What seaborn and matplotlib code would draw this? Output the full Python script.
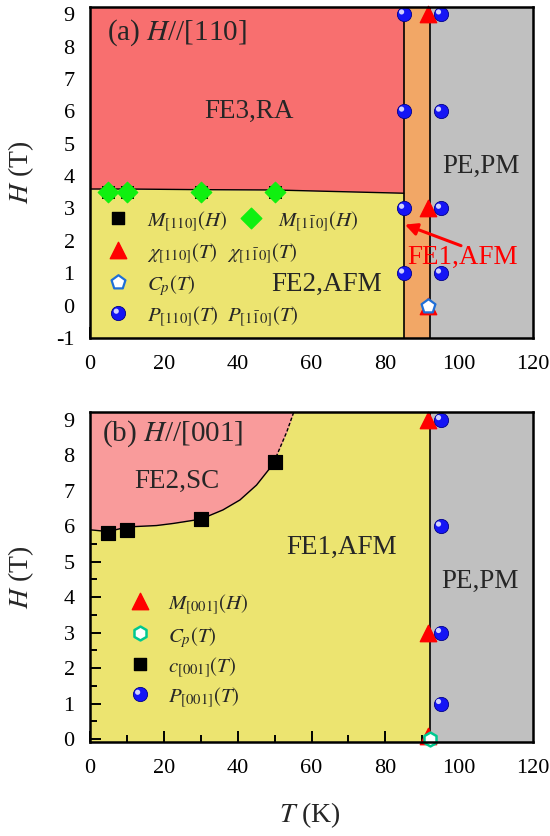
import matplotlib
matplotlib.use("Agg")
import matplotlib.pyplot as plt
import matplotlib.transforms as mtransforms
from matplotlib.ticker import MultipleLocator
import seaborn as sns

sns.set_theme(style="ticks")
plt.rcParams["font.family"] = ["Liberation Serif", "DejaVu Serif"]
plt.rcParams["mathtext.fontset"] = "stix"
plt.rcParams["axes.unicode_minus"] = False

# ---------------- panel (a): H // [110] ----------------
a_M110_T = [5, 10, 30, 50]
a_M110_H = [3.5, 3.5, 3.5, 3.5]
a_M1b10_T = [5, 10, 30, 50]
a_M1b10_H = [3.5, 3.5, 3.5, 3.5]
a_chi_T = [91.5, 91.5, 91.5]
a_chi_H = [9, 3, 0]
a_cp_T = [91.6]
a_cp_H = [0]
a_P_T = [85, 85, 85, 85, 95, 95, 95, 95]
a_P_H = [9, 6, 3, 1, 9, 6, 3, 1]
# FE3 / FE2 boundary
a_bd_T = [0, 5, 10, 30, 50, 85]
a_bd_H = [3.6, 3.6, 3.6, 3.58, 3.57, 3.47]
a_T1 = 85   # FE2 -> FE1
a_T2 = 92   # FE1 -> PE

# ---------------- panel (b): H // [001] ----------------
b_M_T = [91.5, 91.5, 91.5]
b_M_H = [9, 3, 0.1]
b_cp_T = [92]
b_cp_H = [0]
b_c_T = [5, 10, 30, 50]
b_c_H = [5.8, 5.9, 6.2, 7.8]
b_P_T = [95, 95, 95, 95]
b_P_H = [9, 6, 3, 1]
# FE2,SC / FE1 boundary (solid part) and its extrapolation (dashed)
b_bd_T = [0, 5, 10, 18, 22.6, 30, 36, 40.6, 45.1, 48.3, 50]
b_bd_H = [5.9, 5.85, 5.98, 6.02, 6.08, 6.2, 6.46, 6.74, 7.16, 7.58, 7.8]
b_ext_T = [50, 50.6, 53.3, 55.2]
b_ext_H = [7.8, 8.0, 8.66, 9.22]
b_T2 = 92

x_ticks = [0, 20, 40, 60, 80, 100, 120]

C_RED = "#F86F6F"
C_PINK = "#F99B9B"
C_YEL = "#ECE470"
C_ORG = "#F2A766"
C_GRAY = "#C0C0C0"
C_BALL = "#1515F5"
C_BALL_EDGE = "#00008A"

fig = plt.figure(figsize=(5.5, 8.36), dpi=100)
W, Hpx = 550.0, 836.0
ax1 = fig.add_axes([90 / W, 1 - 338 / Hpx, 443 / W, 331 / Hpx])
ax2 = fig.add_axes([90 / W, 1 - 742 / Hpx, 443 / W, 330 / Hpx])


def balls(ax, x, y, zorder=7):
    sns.scatterplot(x=x, y=y, ax=ax, s=105, color=C_BALL, edgecolor=C_BALL_EDGE,
                    linewidth=0.6, zorder=zorder, clip_on=False, legend=False)
    shine = mtransforms.offset_copy(ax.transData, fig=fig, x=-2.2, y=2.2, units="dots")
    ax.scatter(x, y, s=14, color="#D0D0FF", edgecolor="none", transform=shine,
               zorder=zorder + 0.1, clip_on=False)


def style_axis(ax, ylo, yhi, yticks):
    ax.set_xlim(0, 120)
    ax.set_ylim(ylo, yhi)
    ax.set_xticks(x_ticks)
    ax.set_yticks(yticks)
    ax.xaxis.set_minor_locator(MultipleLocator(10))
    ax.yaxis.set_minor_locator(MultipleLocator(0.5))
    ax.tick_params(which="both", direction="in", top=False, right=False,
                   width=1.4, labelsize=16, color="black", labelcolor="black")
    ax.tick_params(which="major", length=8)
    ax.tick_params(which="minor", length=5)
    ax.tick_params(axis="x", pad=12)
    ax.tick_params(axis="y", pad=11)
    for s in ax.spines.values():
        s.set_linewidth(1.8)
        s.set_color("black")
        s.set_zorder(20)
    ax.set_ylabel(r"$H$ (T)", fontsize=20)
    ax.yaxis.set_label_coords(-0.123, 0.5)


# ---------- panel (a) ----------
ylo_a, yhi_a = -1, 9.22
ax1.fill_between(a_bd_T, a_bd_H, yhi_a, color=C_RED, lw=0, zorder=1)
ax1.fill_between(a_bd_T, ylo_a, a_bd_H, color=C_YEL, lw=0, zorder=1)
ax1.axvspan(a_T1, a_T2, color=C_ORG, lw=0, zorder=1)
ax1.axvspan(a_T2, 120, color=C_GRAY, lw=0, zorder=1)
sns.lineplot(x=a_bd_T, y=a_bd_H, ax=ax1, color="black", lw=1.0, sort=False,
             estimator=None, zorder=3)
ax1.axvline(a_T1, color="black", lw=1.2, zorder=3)
ax1.axvline(a_T2, color="black", lw=1.2, zorder=3)

sns.scatterplot(x=a_M110_T, y=a_M110_H, ax=ax1, marker="s", s=85, color="black",
                edgecolor="black", zorder=5, legend=False)
sns.scatterplot(x=a_M1b10_T, y=a_M1b10_H, ax=ax1, marker="D", s=110, color="#10F010",
                edgecolor="#10F010", zorder=6, legend=False)
sns.scatterplot(x=a_chi_T, y=a_chi_H, ax=ax1, marker="^", s=140, color="red",
                edgecolor="red", zorder=6, legend=False, clip_on=False)
sns.scatterplot(x=a_cp_T, y=a_cp_H, ax=ax1, marker="p", s=110, color="white",
                edgecolor="#1E6FD8", linewidth=1.6, zorder=8, legend=False)
balls(ax1, a_P_T, a_P_H)

ax1.text(4.5, 8.42, r"(a) $H$//[110]", fontsize=21, va="center", ha="left")
ax1.text(43.2, 6.0, "FE3,RA", fontsize=19.5, va="center", ha="center")
ax1.text(64.0, 0.64, "FE2,AFM", fontsize=19.5, va="center", ha="center")
ax1.text(106.0, 4.3, "PE,PM", fontsize=19.5, va="center", ha="center")
ax1.text(101.0, 1.5, "FE1,AFM", fontsize=19.5, va="center", ha="center", color="red")
ax1.annotate("", xy=(85.3, 2.5), xytext=(100.5, 1.85),
             arrowprops=dict(arrowstyle="-|>", color="red", lw=2.2,
                             mutation_scale=18, shrinkA=0, shrinkB=0), zorder=9)

# panel (a) key
row_a = [2.69, 1.72, 0.74, -0.24]
ax1.scatter([7.7], [row_a[0]], marker="s", s=85, color="black", zorder=9)
ax1.scatter([43.5], [row_a[0]], marker="D", s=110, color="#10F010", zorder=9)
ax1.scatter([7.7], [row_a[1]], marker="^", s=140, color="red", zorder=9)
ax1.scatter([7.7], [row_a[2]], marker="p", s=110, color="white",
            edgecolor="#1E6FD8", linewidth=1.6, zorder=9)
balls(ax1, [7.7], [row_a[3]], zorder=9)
key_fs = 15
ax1.text(15.5, row_a[0], r"$M_{[110]}(H)$", fontsize=key_fs, va="center_baseline")
ax1.text(51.0, row_a[0], r"$M_{[1\bar{1}0]}(H)$", fontsize=key_fs, va="center_baseline")
ax1.text(15.5, row_a[1], r"$\chi_{[110]}(T)$", fontsize=key_fs, va="center_baseline")
ax1.text(37.0, row_a[1], r"$\chi_{[1\bar{1}0]}(T)$", fontsize=key_fs, va="center_baseline")
ax1.text(15.5, row_a[2], r"$C_p(T)$", fontsize=key_fs, va="center_baseline")
ax1.text(15.5, row_a[3], r"$P_{[110]}(T)$", fontsize=key_fs, va="center_baseline")
ax1.text(37.0, row_a[3], r"$P_{[1\bar{1}0]}(T)$", fontsize=key_fs, va="center_baseline")

style_axis(ax1, ylo_a, yhi_a, list(range(-1, 10)))
ax1.set_xlabel("")

# ---------- panel (b) ----------
ylo_b, yhi_b = -0.08, 9.22
ax2.axvspan(0, b_T2, color=C_YEL, lw=0, zorder=0.5)
sc_T = b_bd_T + b_ext_T[1:]
sc_H = b_bd_H + b_ext_H[1:]
ax2.fill_between(sc_T, sc_H, yhi_b, color=C_PINK, lw=0, zorder=1)
ax2.axvspan(b_T2, 120, color=C_GRAY, lw=0, zorder=1)
sns.lineplot(x=b_bd_T, y=b_bd_H, ax=ax2, color="black", lw=1.0, sort=False,
             estimator=None, zorder=3)
ax2.plot(b_ext_T, b_ext_H, color="black", lw=1.0, ls=(0, (2.5, 1.5)), zorder=3)
ax2.axvline(b_T2, color="black", lw=1.2, zorder=3)

sns.scatterplot(x=b_c_T, y=b_c_H, ax=ax2, marker="s", s=110, color="black",
                edgecolor="black", zorder=5, legend=False)
sns.scatterplot(x=b_M_T, y=b_M_H, ax=ax2, marker="^", s=140, color="red",
                edgecolor="red", zorder=6, legend=False, clip_on=False)
sns.scatterplot(x=b_cp_T, y=b_cp_H, ax=ax2, marker="h", s=100, color="white",
                edgecolor="#00C890", linewidth=1.8, zorder=8, legend=False, clip_on=False)
balls(ax2, b_P_T, b_P_H)

ax2.text(3.2, 8.6, r"(b) $H$//[001]", fontsize=21, va="center", ha="left")
ax2.text(23.5, 7.25, "FE2,SC", fontsize=19.5, va="center", ha="center")
ax2.text(68.2, 5.4, "FE1,AFM", fontsize=19.5, va="center", ha="center")
ax2.text(105.6, 4.45, "PE,PM", fontsize=19.5, va="center", ha="center")

# panel (b) key
row_b = [3.89, 2.98, 2.11, 1.26]
ax2.scatter([13.5], [row_b[0]], marker="^", s=140, color="red", zorder=9)
ax2.scatter([13.5], [row_b[1]], marker="h", s=100, color="white",
            edgecolor="#00C890", linewidth=1.8, zorder=9)
ax2.scatter([13.5], [row_b[2]], marker="s", s=85, color="black", zorder=9)
balls(ax2, [13.5], [row_b[3]], zorder=9)
ax2.text(21.2, row_b[0], r"$M_{[001]}(H)$", fontsize=key_fs, va="center_baseline")
ax2.text(21.2, row_b[1], r"$C_p(T)$", fontsize=key_fs, va="center_baseline")
ax2.text(21.2, row_b[2], r"$c_{[001]}(T)$", fontsize=key_fs, va="center_baseline")
ax2.text(21.2, row_b[3], r"$P_{[001]}(T)$", fontsize=key_fs, va="center_baseline")

style_axis(ax2, ylo_b, yhi_b, list(range(0, 10)))
ax2.set_xlabel(r"$T$ (K)", fontsize=20)
ax2.xaxis.set_label_coords(0.497, -0.178)

fig.savefig("out.png", dpi=100)
